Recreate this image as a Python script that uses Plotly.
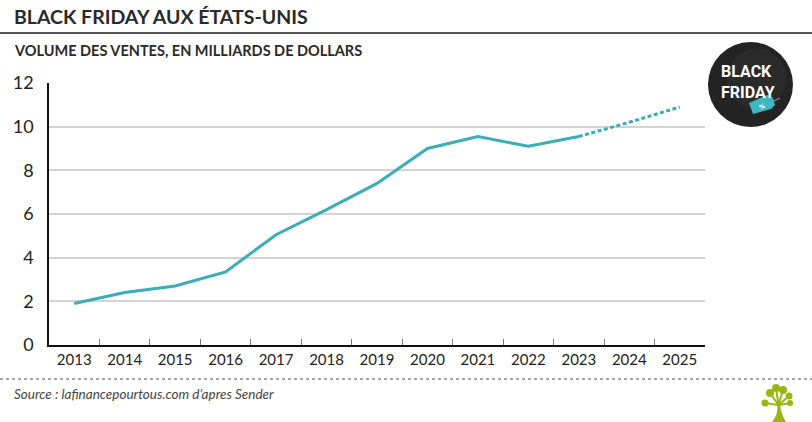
import plotly.graph_objects as go

years = ["2013", "2014", "2015", "2016", "2017", "2018", "2019", "2020", "2021", "2022", "2023", "2024", "2025"]
sales_actual = [1.9, 2.4, 2.7, 3.35, 5.05, 6.2, 7.4, 9.0, 9.55, 9.1, 9.55]
sales_forecast = [9.55, 10.2, 10.9]
y_ticks = [0, 2, 4, 6, 8, 10, 12]

TEAL = "#3aaeb8"
FONT = "Lato"

W, H = 812, 422
L, R, T, B = 49, 705, 83, 345


def px(x):
    return (x - L) / (R - L)


def py(y):
    return (B - y) / (B - T)


xs_actual = list(range(len(sales_actual)))
xs_forecast = list(range(len(sales_actual) - 1, len(years)))

fig = go.Figure()
fig.add_trace(go.Scatter(x=xs_actual, y=sales_actual, mode="lines",
                         line=dict(color=TEAL, width=3), hoverinfo="skip"))
fig.add_trace(go.Scatter(x=xs_forecast, y=sales_forecast, mode="lines",
                         line=dict(color=TEAL, width=3, dash="4px,2.5px"), hoverinfo="skip"))

fig.update_layout(
    width=W, height=H,
    margin=dict(l=L, r=W - R, t=T, b=H - B, pad=0),
    paper_bgcolor="white", plot_bgcolor="white",
    showlegend=False,
    font=dict(family=FONT, color="#222"),
    xaxis=dict(
        range=[-0.5, len(years) - 0.5],
        tickmode="array", tickvals=list(range(len(years))), ticktext=years,
        ticks="", showgrid=False, zeroline=False,
        showline=True, linecolor="#111", linewidth=1.5,
        tickfont=dict(size=15, family=FONT, color="#222"),
        minor=dict(tickmode="array", tickvals=[i + 0.5 for i in range(len(years) - 1)],
                   ticks="inside", ticklen=6, tickcolor="#777", tickwidth=1.2, showgrid=False),
        fixedrange=True,
    ),
    yaxis=dict(
        range=[0, 12], tickmode="array", tickvals=y_ticks,
        ticks="", showgrid=True, gridcolor="#d4d4d4", gridwidth=1.5,
        zeroline=False, showline=True, linecolor="#111", linewidth=1.5,
        tickfont=dict(size=18, family=FONT, color="#222"),
        ticklabelstandoff=10,
        fixedrange=True,
    ),
)

shapes = []
annotations = []

# title rule
shapes.append(dict(type="line", xref="paper", yref="paper", x0=px(0), x1=px(W), y0=py(33), y1=py(33),
                   line=dict(color="#555", width=2)))
# bottom dotted rule
shapes.append(dict(type="line", xref="paper", yref="paper", x0=px(0), x1=px(W), y0=py(379), y1=py(379),
                   line=dict(color="#888", width=1.5, dash="dot")))

annotations.append(dict(text="<b>BLACK FRIDAY AUX ÉTATS-UNIS</b>", xref="paper", yref="paper",
                        x=px(12), y=py(17), xanchor="left", yanchor="middle", showarrow=False,
                        font=dict(size=19.5, family=FONT, color="#2a2a2a")))
annotations.append(dict(text="<b>VOLUME DES VENTES, EN MILLIARDS DE DOLLARS</b>", xref="paper", yref="paper",
                        x=px(12), y=py(50), xanchor="left", yanchor="middle", showarrow=False,
                        font=dict(size=14.5, family=FONT, color="#2a2a2a")))
annotations.append(dict(text="<i>Source : lafinancepourtous.com d’apres Sender</i>", xref="paper", yref="paper",
                        x=px(12), y=py(394), xanchor="left", yanchor="middle", showarrow=False,
                        font=dict(size=13.5, family=FONT, color="#444")))

# Black Friday logo
cx, cy, r = 750.5, 84.5, 42.5
shapes.append(dict(type="circle", xref="paper", yref="paper",
                   xsizemode="pixel", ysizemode="pixel", xanchor=px(cx), yanchor=py(cy),
                   x0=-r, x1=r, y0=-r, y1=r, fillcolor="#232323", line=dict(width=0)))
shapes.append(dict(type="circle", xref="paper", yref="paper",
                   xsizemode="pixel", ysizemode="pixel", xanchor=px(cx + 6), yanchor=py(cy - 6),
                   x0=-30, x1=30, y0=-30, y1=30, fillcolor="#2e2e2e", line=dict(width=0), opacity=0.6))
annotations.append(dict(text="<b>BLACK<br>FRIDAY</b>", xref="paper", yref="paper", x=px(748), y=py(82),
                        xanchor="center", yanchor="middle", showarrow=False, align="left",
                        font=dict(size=16, family="Roboto", color="white")))
# tag
tagx, tagy = 763, 104
shapes.append(dict(type="path", xref="paper", yref="paper",
                   xsizemode="pixel", ysizemode="pixel", xanchor=px(tagx), yanchor=py(tagy),
                   path="M -10 -10 L -14 1 L 4 9 L 10 6 L 12 -1 L 8 -5 Z",
                   fillcolor="#3fb6c2", line=dict(width=0)))
shapes.append(dict(type="line", xref="paper", yref="paper",
                   xsizemode="pixel", ysizemode="pixel", xanchor=px(tagx), yanchor=py(tagy),
                   x0=11, y0=3, x1=17, y1=6, line=dict(color="#aaa", width=1)))
annotations.append(dict(text="<b>%</b>", xref="paper", yref="paper", x=px(tagx - 1), y=py(tagy + 2),
                        xanchor="center", yanchor="middle", showarrow=False, textangle=-25,
                        font=dict(size=7, family=FONT, color="white")))

# tree icon
GREEN = "#9bb514"
tx, ty = 777, 422
shapes.append(dict(type="path", xref="paper", yref="paper",
                   xsizemode="pixel", ysizemode="pixel", xanchor=px(tx), yanchor=py(ty),
                   path="M -5 0 C 0 6 1 12 0 18 L 3 18 C 4 10 6 5 9 0 Z",
                   fillcolor=GREEN, line=dict(width=0)))
for (dx, dy, rr) in [(-12, 19, 3.5), (-7, 29, 4), (-1, 34, 4), (6, 32, 4), (12, 26, 3.5), (13, 19, 3)]:
    shapes.append(dict(type="circle", xref="paper", yref="paper",
                       xsizemode="pixel", ysizemode="pixel", xanchor=px(tx), yanchor=py(ty),
                       x0=dx - rr, x1=dx + rr, y0=dy - rr, y1=dy + rr,
                       fillcolor=GREEN, line=dict(width=0)))
for (dx, dy, _) in [(-12, 19, 0), (-7, 29, 0), (-1, 34, 0), (6, 32, 0), (12, 26, 0), (13, 19, 0)]:
    shapes.append(dict(type="line", xref="paper", yref="paper",
                       xsizemode="pixel", ysizemode="pixel", xanchor=px(tx), yanchor=py(ty),
                       x0=1.5, y0=17, x1=dx, y1=dy, line=dict(color=GREEN, width=2)))

fig.update_layout(shapes=shapes, annotations=annotations)
fig.write_html("out.html", config={"displayModeBar": False},
               post_script="document.body.style.margin='0';document.body.style.overflow='hidden';")
